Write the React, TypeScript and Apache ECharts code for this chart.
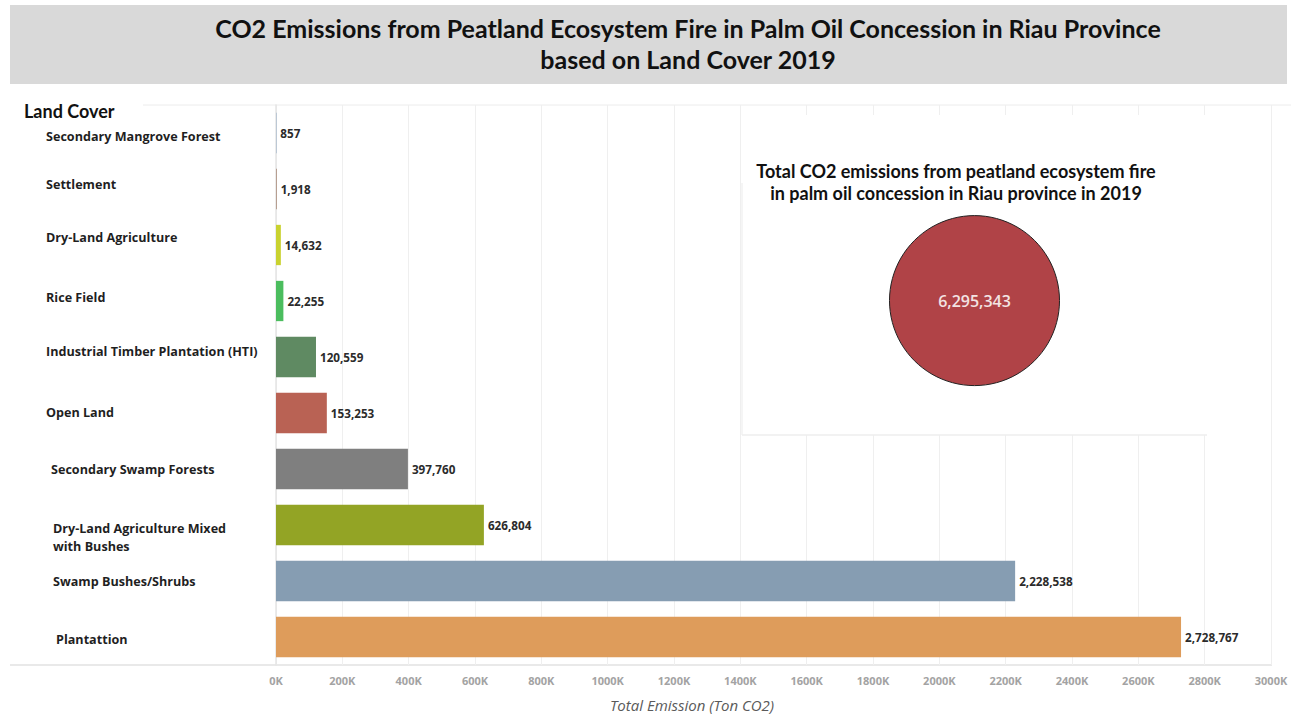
import React, { useEffect, useRef } from "react";
import * as echarts from "echarts";

const categories = [
  "Secondary Mangrove Forest",
  "Settlement",
  "Dry-Land Agriculture",
  "Rice Field",
  "Industrial Timber Plantation (HTI)",
  "Open Land",
  "Secondary Swamp Forests",
  "Dry-Land Agriculture Mixed\nwith Bushes",
  "Swamp Bushes/Shrubs",
  "Plantattion",
];
const emissions = [857, 1918, 14632, 22255, 120559, 153253, 397760, 626804, 2228538, 2728767];
const barColors = [
  "#4e79a7",
  "#9c755f",
  "#c9d22f",
  "#4bbd5e",
  "#5f8a62",
  "#b96254",
  "#7f7f7f",
  "#93a425",
  "#869db2",
  "#de9c5b",
];
const totalEmission = 6295343;
const xTicksMax = 3000000;
const xTickStep = 200000;

const mainTitle = "CO2 Emissions from Peatland Ecosystem Fire in Palm Oil Concession in Riau Province\nbased on Land Cover 2019";
const insetTitle = "Total CO2 emissions from peatland ecosystem fire\nin palm oil concession in Riau province in 2019";

// label placement tweaks (style only): left indent, vertical shift
const labelIndent = [0, 0, 0, 0, 0, 0, 5, 7, 7, 10];
const labelShift = [3, -5, -8, -4, -6, -1, 0, 12, 0, 2];

const fmt = (v: number) => v.toLocaleString("en-US");

export default function App() {
  const ref = useRef<HTMLDivElement>(null);
  useEffect(() => {
    document.body.style.margin = "0";
    const chart = echarts.init(ref.current!, null, { renderer: "svg" });
    const base = {
      fontFamily: "Open Sans",
      fontWeight: "bold",
      fontSize: 12.6,
      color: "#1f1f1f",
      lineHeight: 18,
    };
    const rich: any = {};
    categories.forEach((c, i) => {
      const d = labelShift[i];
      const ind = labelIndent[i];
      const lines = c.split("\n");
      if (lines.length === 1) {
        rich[`r${i}_0`] = {
          ...base,
          padding: [d > 0 ? 2 * d : 0, 0, d < 0 ? -2 * d : 0, ind],
        };
      } else {
        lines.forEach((_, li) => {
          rich[`r${i}_${li}`] = { ...base, padding: [0, 0, 0, ind] };
        });
        rich[`sp${i}`] = { ...base, fontSize: 4, lineHeight: 2 * Math.abs(d) };
      }
    });
    chart.setOption({
      animation: false,
      backgroundColor: "#ffffff",
      title: [
        {
          text: mainTitle,
          left: 683,
          top: 7,
          textAlign: "center",
          textStyle: {
            fontFamily: "Lato",
            fontWeight: "bold",
            fontSize: 25,
            lineHeight: 31,
            color: "#111",
          },
        },
        {
          text: insetTitle,
          left: 951,
          top: 155,
          textAlign: "center",
          z: 20,
          textStyle: {
            fontFamily: "Lato",
            fontWeight: "bold",
            fontSize: 18,
            lineHeight: 22,
            color: "#111",
          },
        },
      ],
      graphic: [
        {
          type: "rect",
          z: -10,
          shape: { x: 10, y: 5, width: 1277, height: 79 },
          style: { fill: "#d9d9d9" },
          silent: true,
        },
        {
          type: "line",
          shape: { x1: 143, y1: 105, x2: 1291, y2: 105 },
          style: { stroke: "#ececec", lineWidth: 1 },
          silent: true,
        },
        {
          type: "line",
          shape: { x1: 10, y1: 665, x2: 1272, y2: 665 },
          style: { stroke: "#e2e2e2", lineWidth: 1.5 },
          silent: true,
        },
        {
          type: "line",
          z: 50,
          shape: { x1: 742, y1: 183, x2: 742, y2: 435 },
          style: { stroke: "#eeeeee", lineWidth: 1.2 },
          silent: true,
        },
        {
          type: "line",
          z: 50,
          shape: { x1: 742, y1: 435, x2: 1207, y2: 435 },
          style: { stroke: "#eeeeee", lineWidth: 1.5 },
          silent: true,
        },
        {
          type: "text",
          x: 24,
          y: 111,
          style: {
            text: "Land Cover",
            fontFamily: "Lato",
            fontWeight: "bold",
            fontSize: 18,
            fill: "#111",
            verticalAlign: "middle",
          },
        },
        {
          type: "text",
          x: 692,
          y: 705,
          style: {
            text: "Total Emission (Ton CO2)",
            fontFamily: "Open Sans",
            fontStyle: "italic",
            fontSize: 15,
            fill: "#5a5a5a",
            align: "center",
            verticalAlign: "middle",
          },
        },
      ],
      grid: [
        { left: 276, right: 20, top: 105, bottom: 52, containLabel: false },
        {
          left: 742,
          top: 115,
          width: 465,
          height: 320,
          show: true,
          backgroundColor: "#ffffff",
          borderWidth: 0,
          z: 5,
        },
      ],
      xAxis: [
        {
          type: "value",
          gridIndex: 0,
          min: 0,
          max: xTicksMax,
          interval: xTickStep,
          axisLine: { show: false },
          axisTick: { show: false },
          splitLine: { show: true, lineStyle: { color: "#efefef", width: 1 } },
          axisLabel: {
            formatter: (v: number) => v / 1000 + "K",
            fontFamily: "Open Sans",
            fontWeight: "bold",
            fontSize: 11,
            color: "#a3a3a3",
            margin: 10,
          },
        },
        {
          type: "value",
          gridIndex: 1,
          min: -1,
          max: 1,
          show: false,
        },
      ],
      yAxis: [
        {
          type: "category",
          gridIndex: 0,
          data: categories,
          inverse: true,
          axisLine: { show: true, lineStyle: { color: "#e4e4e4", width: 1.5 } },
          axisTick: { show: false },
          splitLine: { show: false },
          axisLabel: {
            align: "left",
            margin: 230,
            formatter: (value: string, idx: number) => {
              const lines = value.split("\n");
              const body = lines.map((l, li) => `{r${idx}_${li}|${l}}`).join("\n");
              if (lines.length > 1 && labelShift[idx] > 0) return `{sp${idx}| }\n` + body;
              return body;
            },
            rich,
          },
        },
        {
          type: "value",
          gridIndex: 1,
          min: -0.84,
          max: 1.16,
          show: false,
        },
      ],
      series: [
        {
          type: "bar",
          xAxisIndex: 0,
          yAxisIndex: 0,
          barCategoryGap: "28%",
          data: emissions.map((v, i) => ({ value: v, itemStyle: { color: barColors[i] } })),
          label: {
            show: true,
            position: "right",
            distance: 4,
            formatter: (p: any) => fmt(p.value),
            fontFamily: "Open Sans",
            fontWeight: "bold",
            fontSize: 11.7,
            color: "#2b2b2b",
          },
        },
        {
          type: "scatter",
          xAxisIndex: 1,
          yAxisIndex: 1,
          z: 10,
          symbol: "circle",
          symbolSize: 170,
          data: [[0, 0, totalEmission]],
          itemStyle: { color: "#b04347", borderColor: "#222", borderWidth: 1, opacity: 1 },
          label: {
            show: true,
            position: "inside",
            formatter: (p: any) => fmt(p.value[2]),
            fontFamily: "Open Sans",
            fontWeight: 600,
            fontSize: 16,
            color: "#f3e3e3",
          },
          markLine: {
            silent: true,
            symbol: "none",
            z: 1,
            label: { show: false },
            lineStyle: { color: "#eeeeee", type: "solid", width: 1.5 },
            data: [{ yAxis: 0 }],
          },
        },
      ],
    });
    return () => chart.dispose();
  }, []);
  return <div ref={ref} style={{ width: 1291, height: 717 }} />;
}
